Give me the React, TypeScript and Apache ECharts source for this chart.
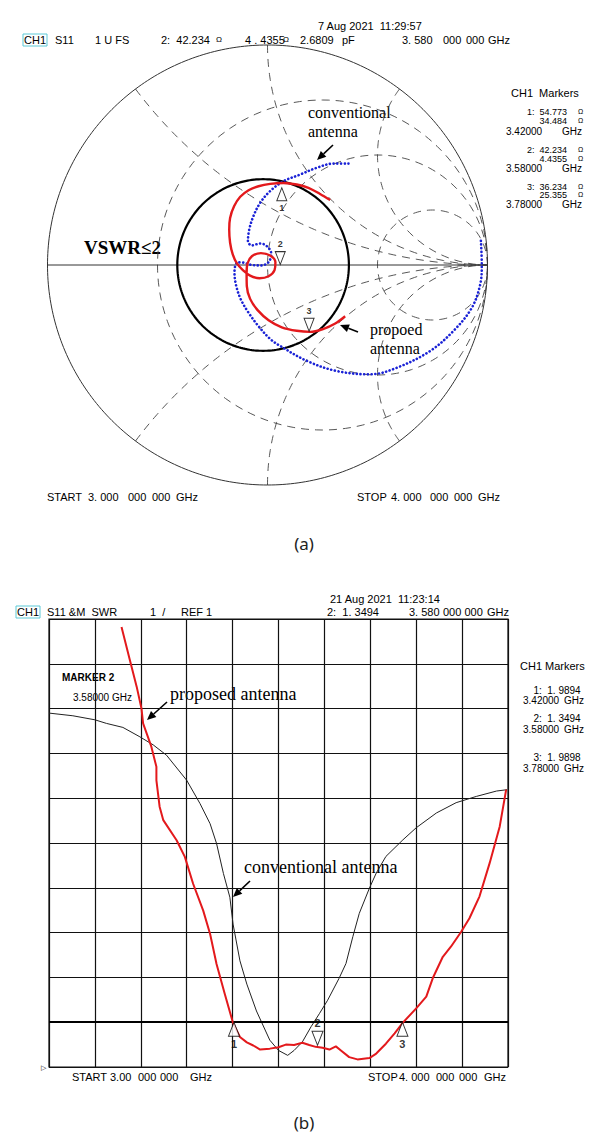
import React, { useEffect, useRef } from "react";
import * as echarts from "echarts";

// ---------- Smith chart (a): reflection coefficient traces (Re, Im) ----------
const smithRedRe = [0.285, 0.239, 0.186, 0.133, 0.073, 0.012, -0.041, -0.086, -0.124, -0.152, -0.170, -0.174, -0.170, -0.158, -0.139, -0.112, -0.079, -0.036, 0.005, 0.032, 0.036, 0.012, -0.030, -0.071, -0.091, -0.095, -0.094, -0.079, -0.045, 0.005, 0.065, 0.133, 0.194, 0.255, 0.308, 0.353];
const smithRedIm = [0.295, 0.323, 0.351, 0.366, 0.373, 0.369, 0.358, 0.340, 0.310, 0.267, 0.214, 0.161, 0.101, 0.048, 0.007, -0.023, -0.048, -0.060, -0.051, -0.023, 0.013, 0.043, 0.054, 0.040, 0.007, -0.036, -0.096, -0.154, -0.205, -0.251, -0.283, -0.299, -0.304, -0.290, -0.266, -0.233];
const smithBlueRe = [0.368, 0.300, 0.224, 0.148, 0.073, 0.012, -0.033, -0.064, -0.083, -0.089, -0.071, -0.033, 0.000, 0.017, 0.005, -0.030, -0.071, -0.106, -0.135, -0.148, -0.150, -0.142, -0.121, -0.086, -0.041, 0.012, 0.058, 0.179, 0.315, 0.467, 0.588, 0.739, 0.845, 0.929, 0.967, 0.974, 0.970];
const smithBlueIm = [0.461, 0.461, 0.442, 0.411, 0.381, 0.336, 0.283, 0.222, 0.161, 0.108, 0.089, 0.098, 0.083, 0.051, 0.013, -0.002, 0.000, 0.010, 0.012, -0.010, -0.036, -0.096, -0.157, -0.217, -0.278, -0.336, -0.368, -0.436, -0.482, -0.497, -0.467, -0.391, -0.300, -0.194, -0.088, 0.003, 0.110];
const smithMarkerNames = ["1", "2", "3"];
const smithMarkerRe = [0.065, 0.058, 0.189];
const smithMarkerIm = [0.351, 0.002, -0.301];
const smithMarkerUp = [true, false, false];
const resistanceCircles = [1 / 3, 1, 3];
const reactanceArcs = [0.5, 1, 2, -0.5, -1, -2];
const vswrCircle = { re: -0.02, im: 0.0, radius: 0.39 };

// ---------- SWR plot (b) ----------
const swrFreqRed = [3.158, 3.176, 3.191, 3.2015, 3.205, 3.223, 3.234, 3.234, 3.241, 3.249, 3.278, 3.296, 3.314, 3.336, 3.351, 3.365, 3.383, 3.401, 3.416, 3.431, 3.445, 3.46, 3.481, 3.5, 3.516, 3.534, 3.552, 3.567, 3.581, 3.596, 3.611, 3.625, 3.636, 3.654, 3.672, 3.698, 3.713, 3.734, 3.753, 3.771, 3.8, 3.822, 3.836, 3.858, 3.876, 3.898, 3.916, 3.938, 3.96, 3.982, 3.996];
const swrRed = [10.82, 10.09, 9.49, 9.0, 8.67, 8.15, 7.7, 7.4, 6.81, 6.51, 6.06, 5.69, 5.09, 4.49, 3.97, 3.3, 2.63, 1.98, 1.67, 1.55, 1.48, 1.39, 1.41, 1.44, 1.5, 1.49, 1.54, 1.49, 1.45, 1.43, 1.39, 1.46, 1.37, 1.22, 1.17, 1.2, 1.3, 1.52, 1.75, 1.99, 2.31, 2.57, 2.98, 3.46, 3.69, 4.02, 4.32, 4.81, 5.55, 6.37, 7.19];
const swrFreqBlack = [3.0, 3.052, 3.1, 3.125, 3.161, 3.198, 3.227, 3.256, 3.3, 3.329, 3.351, 3.365, 3.38, 3.394, 3.401, 3.416, 3.431, 3.452, 3.481, 3.5, 3.52, 3.534, 3.552, 3.571, 3.589, 3.607, 3.632, 3.647, 3.662, 3.676, 3.698, 3.713, 3.734, 3.771, 3.8, 3.844, 3.887, 3.931, 3.975, 3.998];
const swrBlack = [8.9, 8.84, 8.75, 8.67, 8.58, 8.37, 8.19, 7.96, 7.4, 6.88, 6.43, 5.99, 5.32, 4.79, 4.19, 3.37, 2.85, 2.25, 1.6, 1.37, 1.26, 1.37, 1.56, 1.9, 2.19, 2.49, 2.98, 3.31, 3.91, 4.43, 4.99, 5.33, 5.7, 6.07, 6.34, 6.67, 6.9, 7.04, 7.16, 7.19];
const swrMarkerNames = ["1", "2", "3"];
const swrMarkerFreq = [3.403, 3.585, 3.77];
const swrMarkerVal = [2.0, 1.485, 2.0];
const swrMarkerUp = [true, false, true];

const SANS = "'Liberation Sans', Arial, sans-serif";
const SERIF = "'Liberation Serif', 'Times New Roman', serif";

function gamma(r: number, x: number): [number, number] {
  const den = (r + 1) * (r + 1) + x * x;
  return [(r * r + x * x - 1) / den, (2 * x) / den];
}
function circlePts(cx: number, cy: number, rad: number, n = 180) {
  const pts: [number, number][] = [];
  for (let k = 0; k <= n; k++) {
    const t = (2 * Math.PI * k) / n;
    pts.push([cx + rad * Math.cos(t), cy + rad * Math.sin(t)]);
  }
  return pts;
}
function arcPts(x: number, n = 120) {
  const pts: [number, number][] = [];
  for (let k = 0; k < n; k++) {
    const r = Math.tan((k / n) * (Math.PI / 2) * 0.995);
    pts.push(gamma(r, x));
  }
  pts.push([1, 0]);
  return pts;
}

function T(text: string, x: number, y: number, o: any = {}) {
  return {
    type: "text",
    x,
    y,
    silent: true,
    style: {
      text,
      fill: o.fill || "#000",
      fontSize: o.size || 11,
      fontFamily: o.family || SANS,
      fontWeight: o.weight || "normal",
      align: o.align || "left",
      verticalAlign: "middle",
      ...(o.style || {}),
    },
  };
}
function arrow(x1: number, y1: number, x2: number, y2: number) {
  const a = Math.atan2(y2 - y1, x2 - x1);
  const L = 9, w = 4;
  const bx = x2 - L * Math.cos(a), by = y2 - L * Math.sin(a);
  const px = -Math.sin(a) * w, py = Math.cos(a) * w;
  return [
    { type: "line", silent: true, shape: { x1, y1, x2: bx, y2: by }, style: { stroke: "#000", lineWidth: 1.6 } },
    { type: "polygon", silent: true, shape: { points: [[x2, y2], [bx + px, by + py], [bx - px, by - py]] }, style: { fill: "#000" } },
  ];
}

export default function App() {
  const ref = useRef<HTMLDivElement>(null);
  useEffect(() => {
    if (!ref.current) return;
    const chart = echarts.init(ref.current, undefined, { renderer: "svg" });

    const dash = { color: "#444", width: 0.9, type: [8, 6] as any };
    const gridSeries: any[] = [];
    resistanceCircles.forEach((r) => {
      gridSeries.push({
        type: "line", xAxisIndex: 0, yAxisIndex: 0, silent: true, showSymbol: false, clip: false,
        data: circlePts(r / (r + 1), 0, 1 / (r + 1)), lineStyle: dash, z: 1,
      });
    });
    reactanceArcs.forEach((x) => {
      gridSeries.push({
        type: "line", xAxisIndex: 0, yAxisIndex: 0, silent: true, showSymbol: false, clip: false,
        data: arcPts(x), lineStyle: dash, z: 1,
      });
    });
    gridSeries.push({
      type: "line", xAxisIndex: 0, yAxisIndex: 0, silent: true, showSymbol: false, clip: false,
      data: circlePts(0, 0, 1, 360), lineStyle: { color: "#333", width: 1 }, z: 2,
    });
    gridSeries.push({
      type: "line", xAxisIndex: 0, yAxisIndex: 0, silent: true, showSymbol: false, clip: false,
      data: [[-1, 0], [1, 0]], lineStyle: { color: "#333", width: 1 }, z: 2,
    });
    gridSeries.push({
      type: "line", xAxisIndex: 0, yAxisIndex: 0, silent: true, showSymbol: false, clip: false,
      data: circlePts(vswrCircle.re, vswrCircle.im, vswrCircle.radius, 240),
      lineStyle: { color: "#000", width: 2.2 }, z: 3,
    });

    const markerSeries = (names: string[], xs: number[], ys: number[], up: boolean[], xi: number, yi: number, size: [number, number], fs: number) =>
      names.map((n, i) => ({
        type: "scatter", xAxisIndex: xi, yAxisIndex: yi, silent: true, z: 6,
        symbol: "triangle", symbolSize: size, symbolRotate: up[i] ? 0 : 180,
        symbolOffset: [0, up[i] ? size[1] / 2 : -size[1] / 2],
        itemStyle: { color: "#fff", borderColor: "#000", borderWidth: 1 },
        label: {
          show: true, formatter: n, position: up[i] ? "bottom" : "top", distance: 2,
          color: "#000", fontSize: fs, fontWeight: "bold", fontFamily: SANS,
        },
        data: [[xs[i], ys[i]]],
      }));

    const P = 10; // panel font size
    const Q = 9; // tightly stacked panel rows
    const option: any = {
      animation: false,
      grid: [
        { left: 47.5, top: 45, width: 440, height: 440, show: false },
        { left: 49, top: 619, width: 459, height: 448, show: true, borderColor: "#111", borderWidth: 1.2, backgroundColor: "transparent" },
      ],
      xAxis: [
        { gridIndex: 0, type: "value", min: -1, max: 1, show: false },
        {
          gridIndex: 1, type: "value", min: 3.0, max: 4.0, interval: 0.1,
          axisLine: { show: false }, axisTick: { show: false }, axisLabel: { show: false },
          splitLine: { show: true, lineStyle: { color: "#111", width: 1.2 } },
        },
      ],
      yAxis: [
        { gridIndex: 0, type: "value", min: -1, max: 1, show: false },
        {
          gridIndex: 1, type: "value", min: 1, max: 11, interval: 1,
          axisLine: { show: false }, axisTick: { show: false }, axisLabel: { show: false },
          splitLine: { show: true, lineStyle: { color: "#111", width: 1.2 } },
        },
      ],
      series: [
        ...gridSeries,
        {
          type: "line", name: "conventional", xAxisIndex: 0, yAxisIndex: 0, showSymbol: false, smooth: 0.35, z: 4,
          data: smithBlueRe.map((v, i) => [v, smithBlueIm[i]]),
          lineStyle: { color: "#1a22d6", width: 2.6, type: [0.1, 3.6] as any, cap: "round" },
        },
        {
          type: "line", name: "proposed", xAxisIndex: 0, yAxisIndex: 0, showSymbol: false, smooth: 0.35, z: 5,
          data: smithRedRe.map((v, i) => [v, smithRedIm[i]]),
          lineStyle: { color: "#e3191c", width: 2.4 },
        },
        ...markerSeries(smithMarkerNames, smithMarkerRe, smithMarkerIm, smithMarkerUp, 0, 0, [10, 13], 9),
        {
          type: "line", name: "conventional SWR", xAxisIndex: 1, yAxisIndex: 1, showSymbol: false, z: 4,
          data: swrFreqBlack.map((f, i) => [f, swrBlack[i]]),
          lineStyle: { color: "#222", width: 1 },
        },
        {
          type: "line", name: "proposed SWR", xAxisIndex: 1, yAxisIndex: 1, showSymbol: false, z: 5,
          data: swrFreqRed.map((f, i) => [f, swrRed[i]]),
          lineStyle: { color: "#e3191c", width: 2 },
          markLine: {
            silent: true, symbol: "none", label: { show: false },
            lineStyle: { color: "#000", width: 2.2, type: "solid" },
            data: [{ yAxis: 2 }],
          },
        },
        ...markerSeries(swrMarkerNames, swrMarkerFreq, swrMarkerVal, swrMarkerUp, 1, 1, [11, 14], 11),
      ],
      graphic: [
        // ----- (a) header -----
        T("7 Aug 2021  11:29:57", 318, 26),
        T("CH1", 23, 40, { style: { borderColor: "#5cc9d6", borderWidth: 1, padding: [1, 1, 0, 1] } }),
        T("S11", 55, 40),
        T("1 U FS", 95, 40),
        T("2:  42.234", 161, 40),
        T("Ω", 216, 39, { size: 8 }),
        T("4 . 4355", 245, 40),
        T("Ω", 283, 39, { size: 8 }),
        T("2.6809", 300, 40),
        T("pF", 342, 40),
        T("3. 580", 402, 40),
        T("000", 443, 40),
        T("000", 466, 40),
        T("GHz", 488, 40),
        // ----- (a) markers panel -----
        T("CH1  Markers", 511, 93),
        T("1:  54.773", 567, 112, { align: "right", size: Q }),
        T("Ω", 578, 111, { size: 7 }),
        T("34.484", 567, 121, { align: "right", size: Q }),
        T("Ω", 578, 120, { size: 7 }),
        T("3.42000", 506, 131, { size: P }),
        T("GHz", 582, 131, { align: "right", size: P }),
        T("2:  42.234", 567, 150, { align: "right", size: Q }),
        T("Ω", 578, 149, { size: 7 }),
        T("4.4355", 567, 159, { align: "right", size: Q }),
        T("Ω", 578, 158, { size: 7 }),
        T("3.58000", 506, 168, { size: P }),
        T("GHz", 582, 168, { align: "right", size: P }),
        T("3:  36.234", 567, 187, { align: "right", size: Q }),
        T("Ω", 578, 186, { size: 7 }),
        T("25.355", 567, 195, { align: "right", size: Q }),
        T("Ω", 578, 194, { size: 7 }),
        T("3.78000", 506, 204, { size: P }),
        T("GHz", 582, 204, { align: "right", size: P }),
        // ----- (a) annotations -----
        T("VSWR≤2", 84, 247, { family: SERIF, size: 19, weight: "bold" }),
        T("conventional", 308, 112, { family: SERIF, size: 16 }),
        T("antenna", 308, 131, { family: SERIF, size: 16 }),
        ...arrow(333, 145, 317, 160),
        T("propoed", 370, 329, { family: SERIF, size: 16 }),
        T("antenna", 370, 348, { family: SERIF, size: 16 }),
        ...arrow(358, 332, 340, 325),
        T("START", 47, 497),
        T("3. 000", 88, 497),
        T("000", 128, 497),
        T("000", 152, 497),
        T("GHz", 176, 497),
        T("STOP", 357, 497),
        T("4. 000", 391, 497),
        T("000", 430, 497),
        T("000", 454, 497),
        T("GHz", 478, 497),
        T("(a)", 304, 543, { align: "center", size: 17, family: "'Noto Sans', sans-serif", fill: "#222" }),
        // ----- (b) header -----
        T("21 Aug 2021  11:23:14", 330, 599),
        T("CH1", 16, 612, { style: { borderColor: "#5cc9d6", borderWidth: 1, padding: [1, 1, 0, 1] } }),
        T("S11 &M  SWR", 47, 612),
        T("1  /", 150, 612),
        T("REF 1", 181, 612),
        T("2:  1. 3494", 327, 612),
        T("3. 580", 409, 612),
        T("000 000", 443, 612),
        T("GHz", 509, 612, { align: "right" }),
        // ----- (b) markers panel -----
        T("CH1 Markers", 520, 666),
        T("1:  1. 9894", 557, 690, { align: "center", size: P }),
        T("3.42000", 523, 700, { size: P }),
        T("GHz", 584, 700, { align: "right", size: P }),
        T("2:  1. 3494", 557, 718, { align: "center", size: P }),
        T("3.58000", 523, 729, { size: P }),
        T("GHz", 584, 729, { align: "right", size: P }),
        T("3:  1. 9898", 557, 757, { align: "center", size: P }),
        T("3.78000", 523, 768, { size: P }),
        T("GHz", 584, 768, { align: "right", size: P }),
        // ----- (b) annotations -----
        T("MARKER 2", 62, 677, { weight: "bold", size: 10 }),
        T("3.58000 GHz", 73, 697, { size: 10 }),
        T("proposed antenna", 170, 694, { family: SERIF, size: 18 }),
        ...arrow(167, 702, 147, 720),
        T("conventional antenna", 244, 867, { family: SERIF, size: 18 }),
        ...arrow(250, 881, 233, 897),
        T("▷", 41, 1067, { size: 7 }),
        T("START", 72, 1077),
        T("3.00", 110, 1077),
        T("000", 138, 1077),
        T("000", 160, 1077),
        T("GHz", 190, 1077),
        T("STOP", 368, 1077),
        T("4. 000", 399, 1077),
        T("000", 436, 1077),
        T("000", 459, 1077),
        T("GHz", 484, 1077),
        T("(b)", 304, 1122, { align: "center", size: 17, family: "'Noto Sans', sans-serif", fill: "#222" }),
      ],
    };
    chart.setOption(option);
    return () => chart.dispose();
  }, []);
  return <div ref={ref} style={{ position: "absolute", left: 0, top: 0, width: 614, height: 1147, background: "#fff" }} />;
}
